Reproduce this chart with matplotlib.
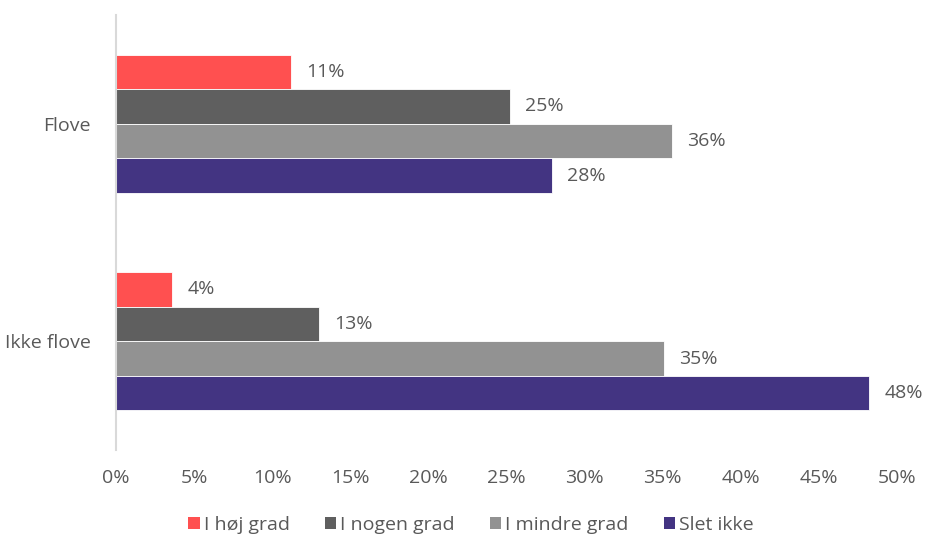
import matplotlib
matplotlib.use("Agg")
import matplotlib.pyplot as plt
import numpy as np
from matplotlib.patches import Patch

categories = ["Flove", "Ikke flove"]
series = ["I høj grad", "I nogen grad", "I mindre grad", "Slet ikke"]
values = {
    "I høj grad": [11.2, 3.6],
    "I nogen grad": [25.2, 13.0],
    "I mindre grad": [35.6, 35.1],
    "Slet ikke": [27.9, 48.2],
}
colors = ["#FF5050", "#5F5F5F", "#929292", "#433482"]
xticks = [0, 5, 10, 15, 20, 25, 30, 35, 40, 45, 50]

plt.rcParams['font.family'] = ['Open Sans', 'DejaVu Sans']
txt = "#595959"
fs = 14

fig = plt.figure(figsize=(9.32, 5.38), dpi=100)
ax = fig.add_axes([116/932, 1-450/538, (897-116)/932, (450-15)/538])

n = len(series)
group_h = 0.635
bh = group_h / n
y = np.arange(len(categories))
for i, (s, c) in enumerate(zip(series, colors)):
    pos = y - group_h/2 + bh*(i+0.5)
    vals = values[s]
    ax.barh(pos, vals, height=bh, color=c, edgecolor="white", linewidth=0.6)
    for p, v in zip(pos, vals):
        ax.annotate(f"{round(v):.0f}%", (v, p), xytext=(11, 0), textcoords="offset points",
                    va="center", ha="left", fontsize=fs, color=txt)

ax.set_ylim(len(categories)-0.5, -0.5)
ax.set_xlim(0, 50)
ax.set_xticks(xticks)
ax.set_xticklabels([f"{t}%" for t in xticks], fontsize=fs, color=txt)
ax.set_yticks(y)
ax.set_yticklabels(categories, fontsize=fs, color=txt)
ax.tick_params(axis='both', length=0)
ax.tick_params(axis='x', pad=14)
ax.tick_params(axis='y', pad=18)
for sp in ["top", "right", "bottom"]:
    ax.spines[sp].set_visible(False)
ax.spines["left"].set_color("#D9D9D9")
ax.spines["left"].set_linewidth(1.5)

handles = [Patch(facecolor=c, edgecolor="none") for c in colors]
fig.legend(handles, series, loc="center", bbox_to_anchor=(471/932, 1-525/538), ncol=4,
           frameon=False, fontsize=fs, labelcolor=txt, handlelength=0.6, handleheight=0.6,
           handletextpad=0.2, columnspacing=1.8)

fig.savefig("out.png", dpi=100)
